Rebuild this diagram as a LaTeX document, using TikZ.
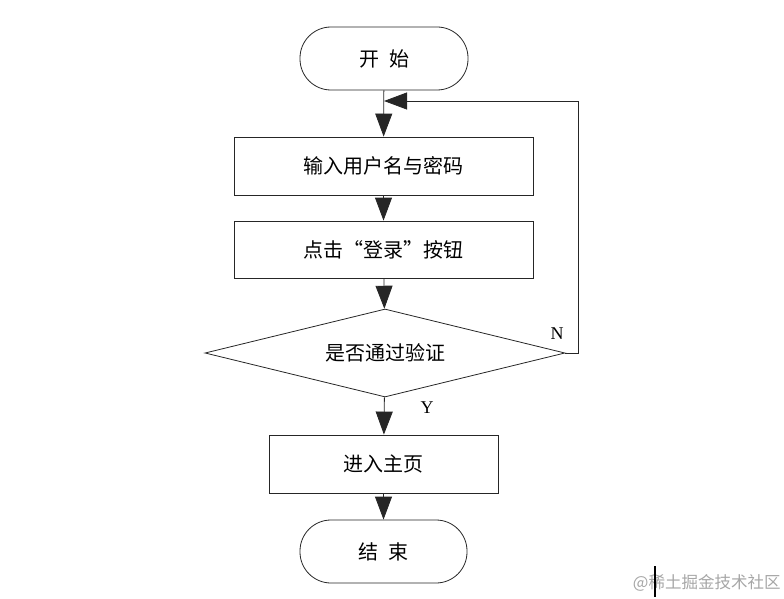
\documentclass[tikz,border=0pt]{standalone}
\usepackage{fontspec}
\setmainfont{Liberation Serif}
\newfontfamily\cjk{Noto Sans CJK SC}
\usetikzlibrary{arrows.meta,shapes.geometric}
\begin{document}
\begin{tikzpicture}[x=1pt,y=1pt,
  line width=0.8pt,
  base/.style={draw=black!85, font=\cjk\fontsize{20}{23}\selectfont, inner sep=0pt},
  term/.style={base, rectangle, rounded corners=31pt, minimum width=168pt, minimum height=63pt},
  proc/.style={base, rectangle, minimum height=58pt},
  decis/.style={base, diamond, aspect=4.09, minimum width=360pt, minimum height=88pt},
  arr/.style={draw=black!85, -{Triangle[length=23pt,width=17pt]}},
  lbl/.style={font=\fontsize{18}{20}\selectfont, inner sep=0pt}
]
\useasboundingbox (0,0) rectangle (784,-599);
\node[term] (start) at (384,-58.5) {开\hspace{0.5em}始};
\node[proc, minimum width=299pt] (b1) at (383.5,-166) {输入用户名与密码};
\node[proc, minimum width=299pt, minimum height=57pt] (b2) at (383.5,-249.5) {点击“登录”按钮};
\node[decis] (dec) at (385,-353) {是否通过验证};
\node[proc, minimum width=229pt] (b3) at (383.5,-464) {进入主页};
\node[term, minimum width=167pt] (end) at (383.5,-551.5) {结\hspace{0.5em}束};
\coordinate (loopin) at (384,-101);
\draw[arr] (start) -- (b1);
\draw[arr] (b1) -- (b2);
\draw[arr] (b2) -- (dec);
\draw[arr] (dec) -- (b3);
\draw[arr] (b3) -- (end);
\draw[arr] (dec.east) -- ++(13,0) |- (loopin);
\node[lbl] (n) at (557,-334) {N};
\node[lbl] (y) at (427,-408) {Y};
\node[font=\cjk\fontsize{16.5}{18}\selectfont, text=black!35, anchor=east, inner sep=0pt] (wm) at (781,-583) {@稀土掘金技术社区};
\draw[line width=1.8pt] (655,-566) -- (655,-597);
\end{tikzpicture}
\end{document}
